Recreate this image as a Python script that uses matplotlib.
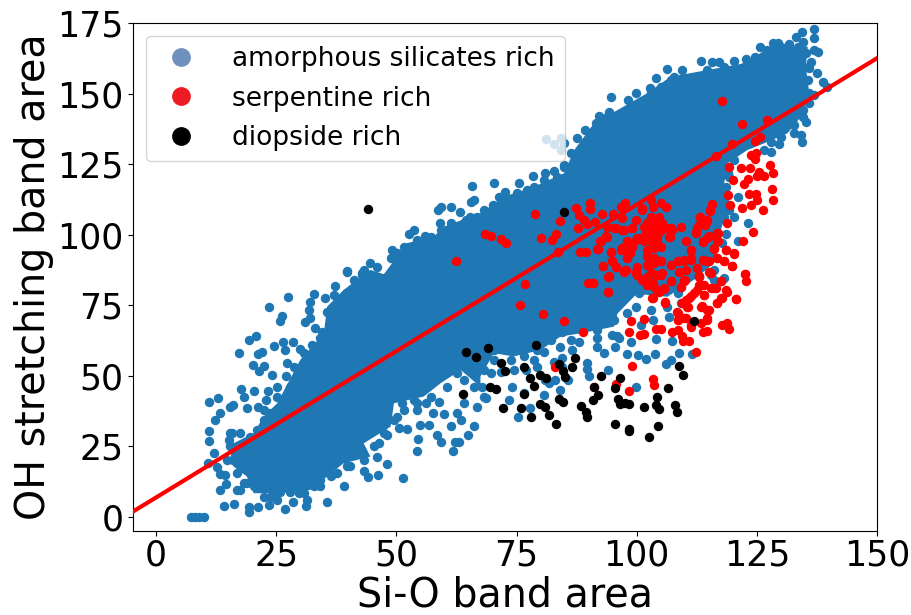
import numpy as np
import matplotlib
matplotlib.use("Agg")
import matplotlib.pyplot as plt
from matplotlib.lines import Line2D

# values, (Si-O area, OH area)
black_pts = [(68.98,59.7),(78.96,61.0),(71.8,54.5),(72.7,51.8),(76.5,53.0),(69.4,45.9),(70.8,45.4),(76.5,43.5),
    (72.2,38.7),(75.9,38.7),(78.1,35.4),(77.9,49.2),(78.6,46.5),(79.9,50.1),(81.2,49.1),(83.8,54.2),(84.7,51.7),
    (85.0,49.4),(86.6,53.0),(87.2,56.1),(79.8,39.9),(80.9,38.8),(81.7,36.2),(83.3,32.9),(83.8,41.6),(84.7,40.8),
    (88.4,39.3),(89.5,37.0),(89.7,35.5),(91.1,46.1),(91.9,43.2),(90.9,41.3),(92.5,49.7),(95.4,45.5),(96.5,49.2),
    (96.2,41.6),(96.5,39.9),(97.5,40.2),(98.4,40.0),(95.4,32.8),(98.5,31.0),(98.3,30.2),(102.5,28.4),(104.4,32.3),
    (101.6,38.9),(104.3,42.5),(104.1,39.6),(104.7,38.2),(106.5,45.5),(107.9,39.7),(108.3,37.1),(108.75,53.3),
    (109.6,50.4),(112.0,69.4),(63.9,43.5),(64.5,58.5),(66.5,56.5),(44.1,109.0),(84.8,107.9)]

red_pts = [(62.4,90.8),(68.4,100.1),(69.7,99.7),(71.7,98.4),(72.8,97.1),(78.9,107.4),(84.0,104.8),(80.1,99.0),
    (82.3,98.1),(83.3,100.4),(83.6,93.8),(117.8,147.5),(121.9,139.4),(127.1,140.6),(124.7,133.2),(125.7,134.5),
    (119.9,132.1),(116.6,128.0),(123.8,128.2),(124.9,128.9),(124.6,126.9),(119.2,124.0),(121.7,123.8),(123.5,123.8),
    (127.7,124.7),(128.3,121.9),(125.5,122.1),(126.5,120.7),(125.1,120.8),(120.1,119.3),(123.1,119.7),(122.4,118.0),
    (128.1,116.2),(128.4,112.2),(123.4,114.4),(124.8,114.4),(123.8,110.5),(125.1,112.3),(126.2,108.8),(121.9,109.3),
    (119.1,114.0),(119.4,110.5),(118.8,104.0),(115.7,110.9),(115.3,108.4),(113.1,106.2),(114.6,105.2),(114.2,103.5),
    (112.6,102.3),(112.3,100.7),(124.2,101.0),(122.1,97.8),(116.8,100.5),(114.7,98.9),(116.9,97.6),(113.7,97.3),
    (116.1,95.1),(118.5,94.6),(120.3,93.3),(116.8,91.6),(118.2,90.5),(119.9,88.9),(122.6,86.0),(110.2,97.6),
    (111.2,94.6),(111.2,91.6),(109.9,91.0),(108.5,90.5),(107.1,89.3),(113.7,91.0),(114.7,90.5),(112.6,88.1),
    (115.4,86.3),(113.0,85.2),(110,84),(109.3,102.9),(107.4,101.7),(106.7,99.3),(105,95.5),(105,111.1),(106,110),
    (103.3,110),(101.2,108.8),(102.9,106.4),(104.7,106.4),(102.2,104),(104,104),(105.3,104),(101.5,102.9),
    (103.3,101.7),(105,101.7),(102.6,99.3),(104.3,99.3),(100.1,98.7),(101.5,97.6),(103.3,97),(98,97.6),(99.1,95.8),
    (97,95.2),(102.2,94.6),(98,91.6),(96.7,94.6),(98,94),(102.6,91.6),(103.6,89.9),(105,90.5),(102.2,89.3),
    (99.8,86.3),(102.9,86.3),(104.3,85.7),(100.1,88.7),(97.6,111.1),(96.7,110),(103,112.3),(95.1,107.4),(97,105.8),
    (92.8,107.4),(90.3,111.4),(90.3,109.1),(87.3,109.4),(88,107),(89,105.2),(91.3,104.5),(89.7,103.8),(87.8,102.3),
    (93.9,102.9),(95.3,102.3),(97.4,101.7),(99.1,102.3),(93.9,99.3),(92.5,97.8),(91.9,94.8),(94.7,94),(88.3,94),
    (89.4,93.8),(93,89),(94.9,90.5),(95.6,88.7),(97.5,87.5),(94.2,85.2),(122.8,83.4),(122.6,86.1),(120.7,77.1),
    (118.8,79.8),(116.7,75.7),(117.5,77.5),(116.1,81),(117.5,83.4),(113.3,74.5),(115.1,73.3),(110.6,74.5),(109.5,75.7),
    (110.9,77.5),(111.9,79.2),(114,78.6),(113.3,82.2),(113,85.1),(109.9,83.4),(109.2,81.6),(107.1,83.4),(108.5,72.4),
    (108.5,69.8),(109.9,70.4),(114.7,69.8),(113.3,68.6),(111.2,67.4),(113.7,65.6),(114.6,65.9),(107.4,65.6),(108.6,66.2),
    (109.4,64.1),(109.7,62.4),(110.9,62.4),(117.8,67.8),(118.7,68.6),(119.3,66.7),(112.4,58.3),(105.9,75.9),(103.3,77.5),
    (104.7,79.8),(105.7,81),(103.3,82.8),(102.2,85.1),(105,85.7),(100.1,85.7),(97.4,86.9),(94.1,85.1),(94,79.6),(89.9,82.8),
    (91,83),(76.7,82.5),(75.8,75.1),(80.5,71.9),(84.9,69.3),(88.8,65.6),(98.8,69.3),(101.5,70.1),(98.3,65.6),(100.7,64.5),
    (101.5,64.8),(104.1,66.7),(105,66.7),(99,53.5),(103.3,48.8),(103.5,46.7),(95.6,47),(98.3,44.6),(82.9,53),(91.1,45.9),
    (102.2,104.1),(103.6,104.7),(105,104.1),(101.9,101.1),(103.2,101.7),(104.6,101.1),(106,102.3),(100.8,98.8),(102.6,98.2),
    (104.3,98.2),(99.8,98.2),(103.6,95.2),(102.2,92.3),(103.6,91.7),(105,90.5),(102.6,89.3),(102.9,86.3),(101.2,84),(102.2,82.2),
    (103.6,81.6),(104.3,80.4),(103.2,77.5),(105.7,80.8),(105.3,86.3),(107.1,83.4),(107.1,89.3),(99.8,86.9),(97.7,87.5),(98,91.7),
    (98.7,93.4),(97,95.2),(98,97),(94.6,94),(91.8,94.9),(92.3,97.6),(93.7,99.4),(97,101.7),(95.6,102.3),(99,102.3),(99.8,105.3),
    (101.2,109.4),(93,89),(94.9,90.5),(95.6,88.7),(94.2,85.4),(94,79.8),(91,83),(108.5,90.5),(109.8,90.8),(111.2,91.1),(111.2,94.6),
    (108.8,86.9),(110.2,87.5),(113.7,91.1),(115,90.5),(113,85.2),(115,86.9),(113,82.2),(114,82.2),(117.5,83.7),(115.4,81),(109.8,84),
    (109.2,81.6),(112.6,80.4),(111.2,78.1),(110.2,76.9),(114,78.7),(116.4,81),(118.5,80.4),(117.8,77.5),(116.7,75.7),(120.7,77.2),
    (110.5,74.5),(113.5,74.8),(114.7,73.3),(108.3,72.5),(108.6,69.8),(110.2,70.4),(114.7,70.4),(111.2,68),(118.2,90.5),(119.9,89),
    (116.8,91.7),(120.3,93.4),(118.5,94.6),(116.1,95.2),(115.1,99.4),(116.8,98.2),(116.9,100.5),(113.7,97.6),(112.3,101.1),(113,103.5),
    (114.6,105),(113.2,106.2),(115.3,108.6),(107.1,102.3),(106.9,99.3),(105.8,76)]

blue_pts = [(7.2,0),(8.1,0),(9.0,0),(9.9,0),(14.1,3.6),(16.3,4.5),(19.3,3.3),(19.3,1.8),(21.2,3.3),(23.4,4.2),(26.8,2.8),
    (28.4,5.3),(31.2,3.8),(31.4,5.9),(35.6,5.1),(29.7,8.3),(25.2,6),(23.8,7.1),(21.8,10.1),(18.9,11.8),(16.8,9.5),(13.4,9.5),
    (14.5,11.6),(13.2,15.2),(14.4,14.8),(12.7,17.5),(10.9,18.9),(12,22.7),(11.1,26.7),(11.1,30.3),(12.3,34.1),(13.2,36.9),
    (11.1,40.5),(12.9,42.1),(15.3,39),(16.1,39.6),(17.7,45.3),(20.4,44.7),(23.3,44.7),(18.9,38.4),(21.3,39),(22.9,41.4),
    (15.8,29.6),(15.1,27.2),(18.2,42.6),(24.1,50.3),(27.1,49.9),(22.4,53.5),(20.2,53.8),(21.5,51.8),(17.3,57.9),(19.4,62.7),
    (20.8,63.9),(21.3,57.7),(22,58.5),(24.6,60.4),(26.5,62),(28.4,62),(26.9,59.1),(30,59.5),(27.2,54.4),(25.7,69.5),(26.2,71.2),
    (23.6,74.5),(27.5,77.8),(30.9,68.9),(32.1,70.4),(31.8,73.3),(32.1,76.3),(32.9,79),(35.2,77.5),(37.3,81.9),(37,78.6),
    (39.7,86.9),(42.9,86.3),(45.6,84),(33.1,66.8),(34.5,65.6),(39,10.7),(39.7,17.8),(44,14.2),(46.1,14.8),(51.4,13.6),(48.1,18.6),
    (43.2,16),(34.2,10.7),(36.3,14.5),(46,21.3),(46.3,26),(54.3,23.1),(61.7,23.1),(54.5,27.6),(59.2,26.6),(62.3,26.6),(63,26.6),
    (58.5,28.8),(65,29),(66.1,32),(61.3,32),(56.8,32.5),(54.9,32.5),(52.2,31),(50.5,31.4),(48,29),(50.2,35.5),(54.3,37.9),
    (57.6,36.9),(59.9,36.4),(62.7,36.7),(63.4,34.3),(58.8,40.8),(56.1,40.2),(53.6,41.2),(51.2,40.2),(66.8,39),(68.6,42),(64,40.2),
    (73.4,41.4),(74.1,46.1),(75.4,35.5),(77.9,38.7),(76.5,44),(80.8,43.3),(84,45),(85.7,48.3),(81.7,47.3),(83.1,48.5),(79.3,53.2),
    (84.5,56.2),(80.7,58.5),(84,60),(86.6,59.1),(89.6,54.4),(89.7,52.3),(90.1,49.7),(94,52),(93.2,57.9),(91.8,60.3),(95.5,60.3),
    (96.3,63.3),(98,57.7),(100.3,57.2),(101.9,55.9),(103.8,57.7),(99.8,46.1),(106,54),(107.1,55.6),(108.7,57.9),(111.6,57.6),
    (98.8,62.1),(104,62.9),(107.4,62.4),(106.7,70.9),(103.3,69.8),(96,63.9),(94.9,64.5),(91.8,63.3),(88,62.1),(86.3,62.7),(82.1,62.7),
    (84.5,65.6),(93.2,70.4),(89,69.8),(99.8,74.5),(100.5,79.2),(118.2,84.5),(115.4,85.7),(109.2,75.7),(123.1,104.3),(121,97.8),
    (120.3,106.4),(118.5,100.3),(121,113.5),(39.7,87.1),(42.9,85.7),(44.6,89.9),(49,94.6),(48.9,91.6),(52.1,93.8),(52.6,100.3),
    (53.6,101.7),(55.9,99.7),(59,104),(58.6,108.8),(59.2,110),(61.3,110),(63.3,108.2),(64.4,105.2),(66.8,106.4),(65.6,111.7),
    (66.1,112.3),(65.8,117.3),(70.3,118.2),(70.1,110.6),(71.3,113.5),(72.7,115.3),(75.5,118.2),(77.2,115.9),(78.6,117),(78.4,120.8),
    (80.9,122),(82.8,122.6),(84.9,124.7),(74.5,108.8),(81.1,133.8),(82.8,132.2),(84.2,134.2),(84.9,132.4),(84.2,130.1),(87.6,134.2),
    (89.7,133.2),(89.2,137.1),(92.2,142.1),(94.2,143.6),(94.6,149),(98.1,147.8),(99.8,150.2),(102.7,152.1),(104.1,155.5),(106.3,158.9),
    (109.5,158.4),(107.1,154.9),(113.3,161.5),(115.6,161.4),(117.2,161.4),(114.4,157.2),(120.3,161.7),(122.8,162.3),(124.7,163.2),
    (125.7,166.5),(128.3,167.9),(129.3,167.9),(131.7,167.6),(133.1,170.2),(134.3,172),(136.9,173),(136.9,169.7),(134.5,168.5),
    (137.8,164.9),(136.9,165.5),(136.3,161.4),(135.9,159),(137.5,157.2),(138.7,154.3),(139.7,152.5),(136.9,149.6),(135.9,146.6),
    (134.5,144.2),(135.2,140.1),(132.8,136),(134.2,135.4),(134.4,133),(129.7,132),(127.9,129.5),(126.5,136.6),(132.1,139.5),
    (119.2,120.6),(118.5,117),(118.2,112.3),(70.3,65),(71.7,60.3),(74.4,59.1),(76.5,56.8),(70.3,55.6),(68.2,52),(74.4,52),(69.6,50.8),
    (67.8,46.1),(68.2,42.6),(78.6,55.6),(81,48.5),(79.3,59.1),(77.9,62.7),(70.3,59.1),(73,62.7),(76.5,61.5),(82.8,55),(84.5,53.2),
    (76.9,52),(71.7,51.4),(73.8,55.6),(64,48.5),(66.1,46.1),(60.6,46.1),(62.7,50.9),(67.5,56.8),(65.4,59.1),(71,61.5),(73.8,63.9),
    (64,62.1),(61.3,56.8),(59.2,52),(103,73.3),(98,72.1),(95.3,69.8),(92.8,71),(91.8,66.2),(100.8,68),(106.4,74.5),(108.5,79.2),(116,84),
    (15.4,29.6),(17.5,29.6),(19.6,28.4),(21,30.8),(22.4,34.3),(23.8,36.7),(22.4,37.9),(25.2,42.6),(25.2,46.1),(27.9,46.1),(29.3,49.7),
    (30.7,53.2),(28.6,53.2),(30.7,57.9),(32.4,60.9),(34.2,63.3),(36.3,69.8),(35.6,72.7),(38.4,74.5),(39.7,79.2),(41.1,84),(43.9,85.1),
    (15.4,24.9),(16.1,20.1),(14.7,20.1),(16.8,15.4),(18.2,11.8),(17.5,9.5),(20.3,10.7),(22.4,7.1),(24.5,8.3),(25.8,8.9),(27.9,8.9),
    (30.7,8.3),(32.8,10.7),(34.2,13),(37.7,15.4),(40.4,17.8),(43.2,20.1),(45.3,24.9),(47.4,29.6),(49.5,34.3),(51.5,37.9),(54.3,40.2),
    (57.1,42.6),(43.2,87.5),(46,88.7),(50.2,93.4),(51.5,95.8),(54.3,98.1),(57.1,99.3),(59.2,101.7),(61.3,104),(64,104),(65.4,106.4),
    (68.2,108.8),(71,110),(73.1,112.3),(75.2,114.7),(80.7,119.4),(83.5,120.6),(85.6,124.1),(84.9,124.1),(86.3,128.9),(88.3,130),
    (90.4,134.8),(91.5,139.5),(93.9,141.9),(96.7,141.9),(99.4,145.4),(102.9,150.2),(105,152.5),(107.8,156),(111.2,154.9),(114.7,158.4),
    (118.2,159.6),(122.4,159.6),(125.1,162),(127.2,165.5),(130,166.7),(133.5,166.7),(135.2,164.3),(134.9,159.6),(135.6,154.9),
    (135.9,150.2),(134.5,141.9),(132.8,138.9),(130,134.8),(127.9,133),(126.5,130),(120.3,126.5),(118.9,121.8),(119.2,108.8),
    (118.2,106.4),(117.8,96.9),(116.1,87.5)]

# outline of the dense middle of the blue cloud, single points cannot be told apart there
core_x = [25.2,30,34.9,35.6,39,44.6,47.4,52.2,57.8,59.9,67.5,72.4,78.6,84.9,87,91.1,96,102.2,107,114.7,122.4,127.9,131.4,135.6,
    135.2,135.9,134.2,131.4,126.5,123,118.9,118.2,118.9,117.5,116.1,111.9,106.4,100,96,95.3,88.3,84.2,80,74.4,70.3,67.5,67.5,63.4,
    59.2,55.7,49.5,48.8,43.2,44.6,39,35.6,32.1,25.8,20.3,18.9,16.1,15.4,16.1,20.3,22.4]
core_y = [40.2,55.6,65,74.5,80.4,87.5,86,97,99.3,102.9,107.6,113.5,117,121.8,130,139.5,144.2,150.2,156,158.4,160.8,166.7,166.7,166.7,
    159.6,150.2,141.9,136,132.4,130,125.3,118.2,108.8,101.7,89.9,84,78,79,72,67.4,65,63.9,59.1,56.8,58,49.7,46,52,
    47.3,42.6,40.2,31.9,26,21.3,18.9,14.2,9.5,8.3,8.3,14.2,17.8,20.1,26,29.6,35.5]

fit_x = [-4.8, 150]
fit_y = [1.8, 162.6]

labels = ["amorphous silicates rich", "serpentine rich", "diopside rich"]
legend_colors = ["#7090bd", "#ed1c24", "black"]

fig = plt.figure(figsize=(9.12, 6.15), dpi=100)
ax = fig.add_axes([133 / 912, 1 - 530.7 / 615, 744 / 912, 508 / 615])

ax.fill(core_x, core_y, color="#1f77b4", lw=0, zorder=1)
pts = np.array(blue_pts).T
ax.scatter(pts[0], pts[1], s=46, color="#1f77b4", lw=0, zorder=2)
pts = np.array(red_pts).T
ax.scatter(pts[0], pts[1], s=46, color="red", lw=0, zorder=3)
pts = np.array(black_pts).T
ax.scatter(pts[0], pts[1], s=46, color="black", lw=0, zorder=4)
ax.plot(fit_x, fit_y, color="red", lw=3, zorder=5)

ax.set_xlim(-4.8, 150)
ax.set_ylim(-5, 175.2)
ax.set_xticks([0, 25, 50, 75, 100, 125, 150])
ax.set_yticks([0, 25, 50, 75, 100, 125, 150, 175])
ax.tick_params(labelsize=25)
ax.tick_params(axis="x", pad=2)
ax.set_xlabel("Si-O band area", fontsize=28.5, labelpad=2.5)
ax.set_ylabel("OH stretching band area", fontsize=28.5, labelpad=2)

handles = [Line2D([], [], ls="", marker="o", ms=12.5, color=c) for c in legend_colors]
ax.legend(handles, labels, loc="upper left", fontsize=19, numpoints=1, handlelength=1.8, handletextpad=1.05)

fig.savefig("out.png", dpi=100)
